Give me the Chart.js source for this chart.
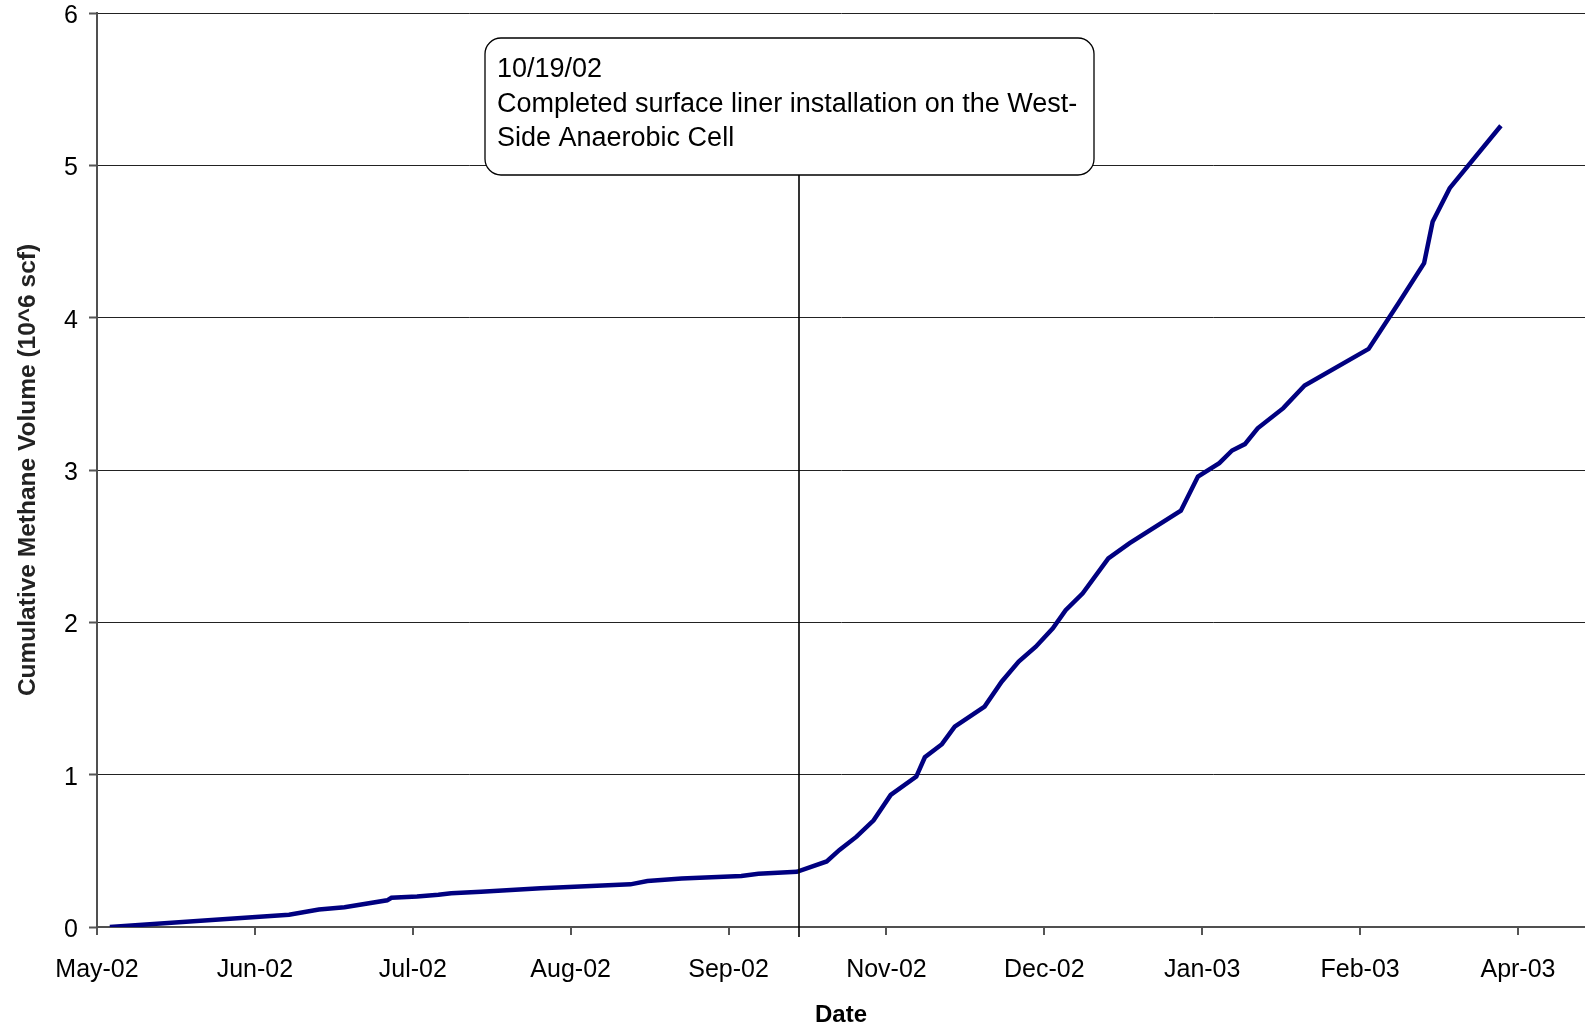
<!DOCTYPE html>
<html>
<head>
<meta charset="utf-8">
<script src="https://cdn.jsdelivr.net/npm/chart.js@4.4.1/dist/chart.umd.min.js"></script>
<style>
    html, body { margin: 0; padding: 0; background: #fff; }
    #wrap { width: 1585px; height: 1031px; }
</style>
</head>
<body>
<div id="wrap"><canvas id="methaneChart" width="1585" height="1031"></canvas></div>
<script>
// readings (date, cumulative methane in 10^6 scf)
const dates = [
    "2002-05-07", "2002-05-30", "2002-06-18", "2002-06-25", "2002-07-01", "2002-07-11",
    "2002-07-12", "2002-07-18", "2002-07-23", "2002-07-26", "2002-08-02", "2002-08-09",
    "2002-08-16", "2002-09-06", "2002-09-10", "2002-09-18", "2002-09-25", "2002-10-02",
    "2002-10-06", "2002-10-15", "2002-10-22", "2002-10-25", "2002-10-29", "2002-11-02",
    "2002-11-06", "2002-11-12", "2002-11-14", "2002-11-18", "2002-11-21", "2002-11-28",
    "2002-12-02", "2002-12-06", "2002-12-10", "2002-12-14", "2002-12-17", "2002-12-21",
    "2002-12-27", "2003-01-01", "2003-01-13", "2003-01-17", "2003-01-22", "2003-01-25",
    "2003-01-28", "2003-01-31", "2003-02-06", "2003-02-11", "2003-02-26", "2003-03-05",
    "2003-03-11", "2003-03-13", "2003-03-17", "2003-03-29"
];
const volume = [
    0.00, 0.045, 0.08, 0.115, 0.13, 0.175,
    0.192, 0.20, 0.212, 0.222, 0.232, 0.243,
    0.254, 0.28, 0.302, 0.318, 0.326, 0.335,
    0.35, 0.362, 0.43, 0.506, 0.593, 0.70,
    0.867, 0.987, 1.114, 1.20, 1.315, 1.447,
    1.61, 1.742, 1.84, 1.961, 2.08, 2.19,
    2.42, 2.52, 2.733, 2.957, 3.045, 3.128,
    3.17, 3.274, 3.406, 3.555, 3.795, 4.095,
    4.358, 4.63, 4.85, 5.26
];

// x axis as the spreadsheet had it: fixed start, 37-day major unit
const axisStart = "2002-05-04";
const axisEnd = "2003-04-17T17:00Z";
const tickStepDays = 37;
const yMin = 0, yMax = 6, yStep = 1;
const monthNames = ["Jan", "Feb", "Mar", "Apr", "May", "Jun", "Jul", "Aug", "Sep", "Oct", "Nov", "Dec"];

// callout
const noteDate = "2002-10-15T12:00Z";
const noteLines = ["10/19/02", "Completed surface liner installation on the West-", "Side Anaerobic Cell"];

const DAY = 86400000;
const FONT = '"Liberation Sans", Arial, sans-serif';

const notePlugin = {
    id: "note",
    afterDraw(chart) {
        const { ctx, scales: { x, y } } = chart;
        const lx = Math.round(x.getPixelForValue(Date.parse(noteDate)));
        const bx = lx - 314, by = 38, bw = 609, bh = 137;
        ctx.save();
        ctx.strokeStyle = "#000";
        ctx.lineWidth = 1.6;
        ctx.beginPath();
        ctx.moveTo(lx, by + bh);
        ctx.lineTo(lx, y.bottom + 10);
        ctx.stroke();

        ctx.beginPath();
        ctx.roundRect(bx, by, bw, bh, 16);
        ctx.fillStyle = "#fff";
        ctx.fill();
        ctx.lineWidth = 1.3;
        ctx.stroke();

        ctx.fillStyle = "#000";
        ctx.font = "27px " + FONT;
        ctx.textBaseline = "middle";
        noteLines.forEach((t, i) => ctx.fillText(t, bx + 12, 70 + i * 34.5));
        ctx.restore();
    }
};

const canvas = document.getElementById("methaneChart");
new Chart(canvas, {
    type: "line",
    data: {
        datasets: [{
            data: dates.map((d, i) => ({ x: Date.parse(d), y: volume[i] })),
            borderColor: "#000080",
            borderWidth: 4.5,
            pointRadius: 0,
            tension: 0,
            fill: false
        }]
    },
    options: {
        responsive: false,
        animation: false,
        layout: { padding: { top: 13, right: 0, bottom: 0, left: 0 } },
        plugins: { legend: { display: false }, tooltip: { enabled: false } },
        scales: {
            x: {
                type: "linear",
                min: Date.parse(axisStart),
                max: Date.parse(axisEnd),
                afterBuildTicks(scale) {
                    const t = [];
                    for (let v = scale.min; v <= scale.max; v += tickStepDays * DAY) t.push({ value: v });
                    scale.ticks = t;
                },
                afterFit(scale) { scale.height = 104; },
                ticks: {
                    autoSkip: false,
                    maxRotation: 0,
                    padding: 20,
                    color: "#000",
                    font: { family: FONT, size: 25 },
                    callback: (v) => {
                        const d = new Date(v);
                        return monthNames[d.getUTCMonth()] + "-" + String(d.getUTCFullYear()).slice(2);
                    }
                },
                grid: { drawOnChartArea: false, tickLength: 8, color: "#555", lineWidth: 2 },
                border: { color: "#505050", width: 2 },
                title: {
                    display: true,
                    text: "Date",
                    color: "#000",
                    font: { family: FONT, size: 24, weight: "bold" },
                    padding: { top: 0, bottom: 1 }
                }
            },
            y: {
                min: yMin,
                max: yMax,
                afterFit(scale) {
                    scale.width = 97;
                    scale.paddingTop = 0;
                    scale.paddingBottom = 0;
                },
                ticks: {
                    stepSize: yStep,
                    padding: 11,
                    labelOffset: 3,
                    color: "#000",
                    font: { family: FONT, size: 25, lineHeight: 1 }
                },
                grid: { color: "#222", lineWidth: 1, tickLength: 8, tickColor: "#555", tickWidth: 2 },
                border: { color: "#505050", width: 2 },
                title: {
                    display: true,
                    text: "Cumulative Methane Volume (10^6 scf)",
                    color: "#222",
                    font: { family: FONT, size: 24.5, weight: "bold" },
                    padding: { top: 14, bottom: 0 }
                }
            }
        }
    },
    plugins: [notePlugin]
});
</script>
</body>
</html>
